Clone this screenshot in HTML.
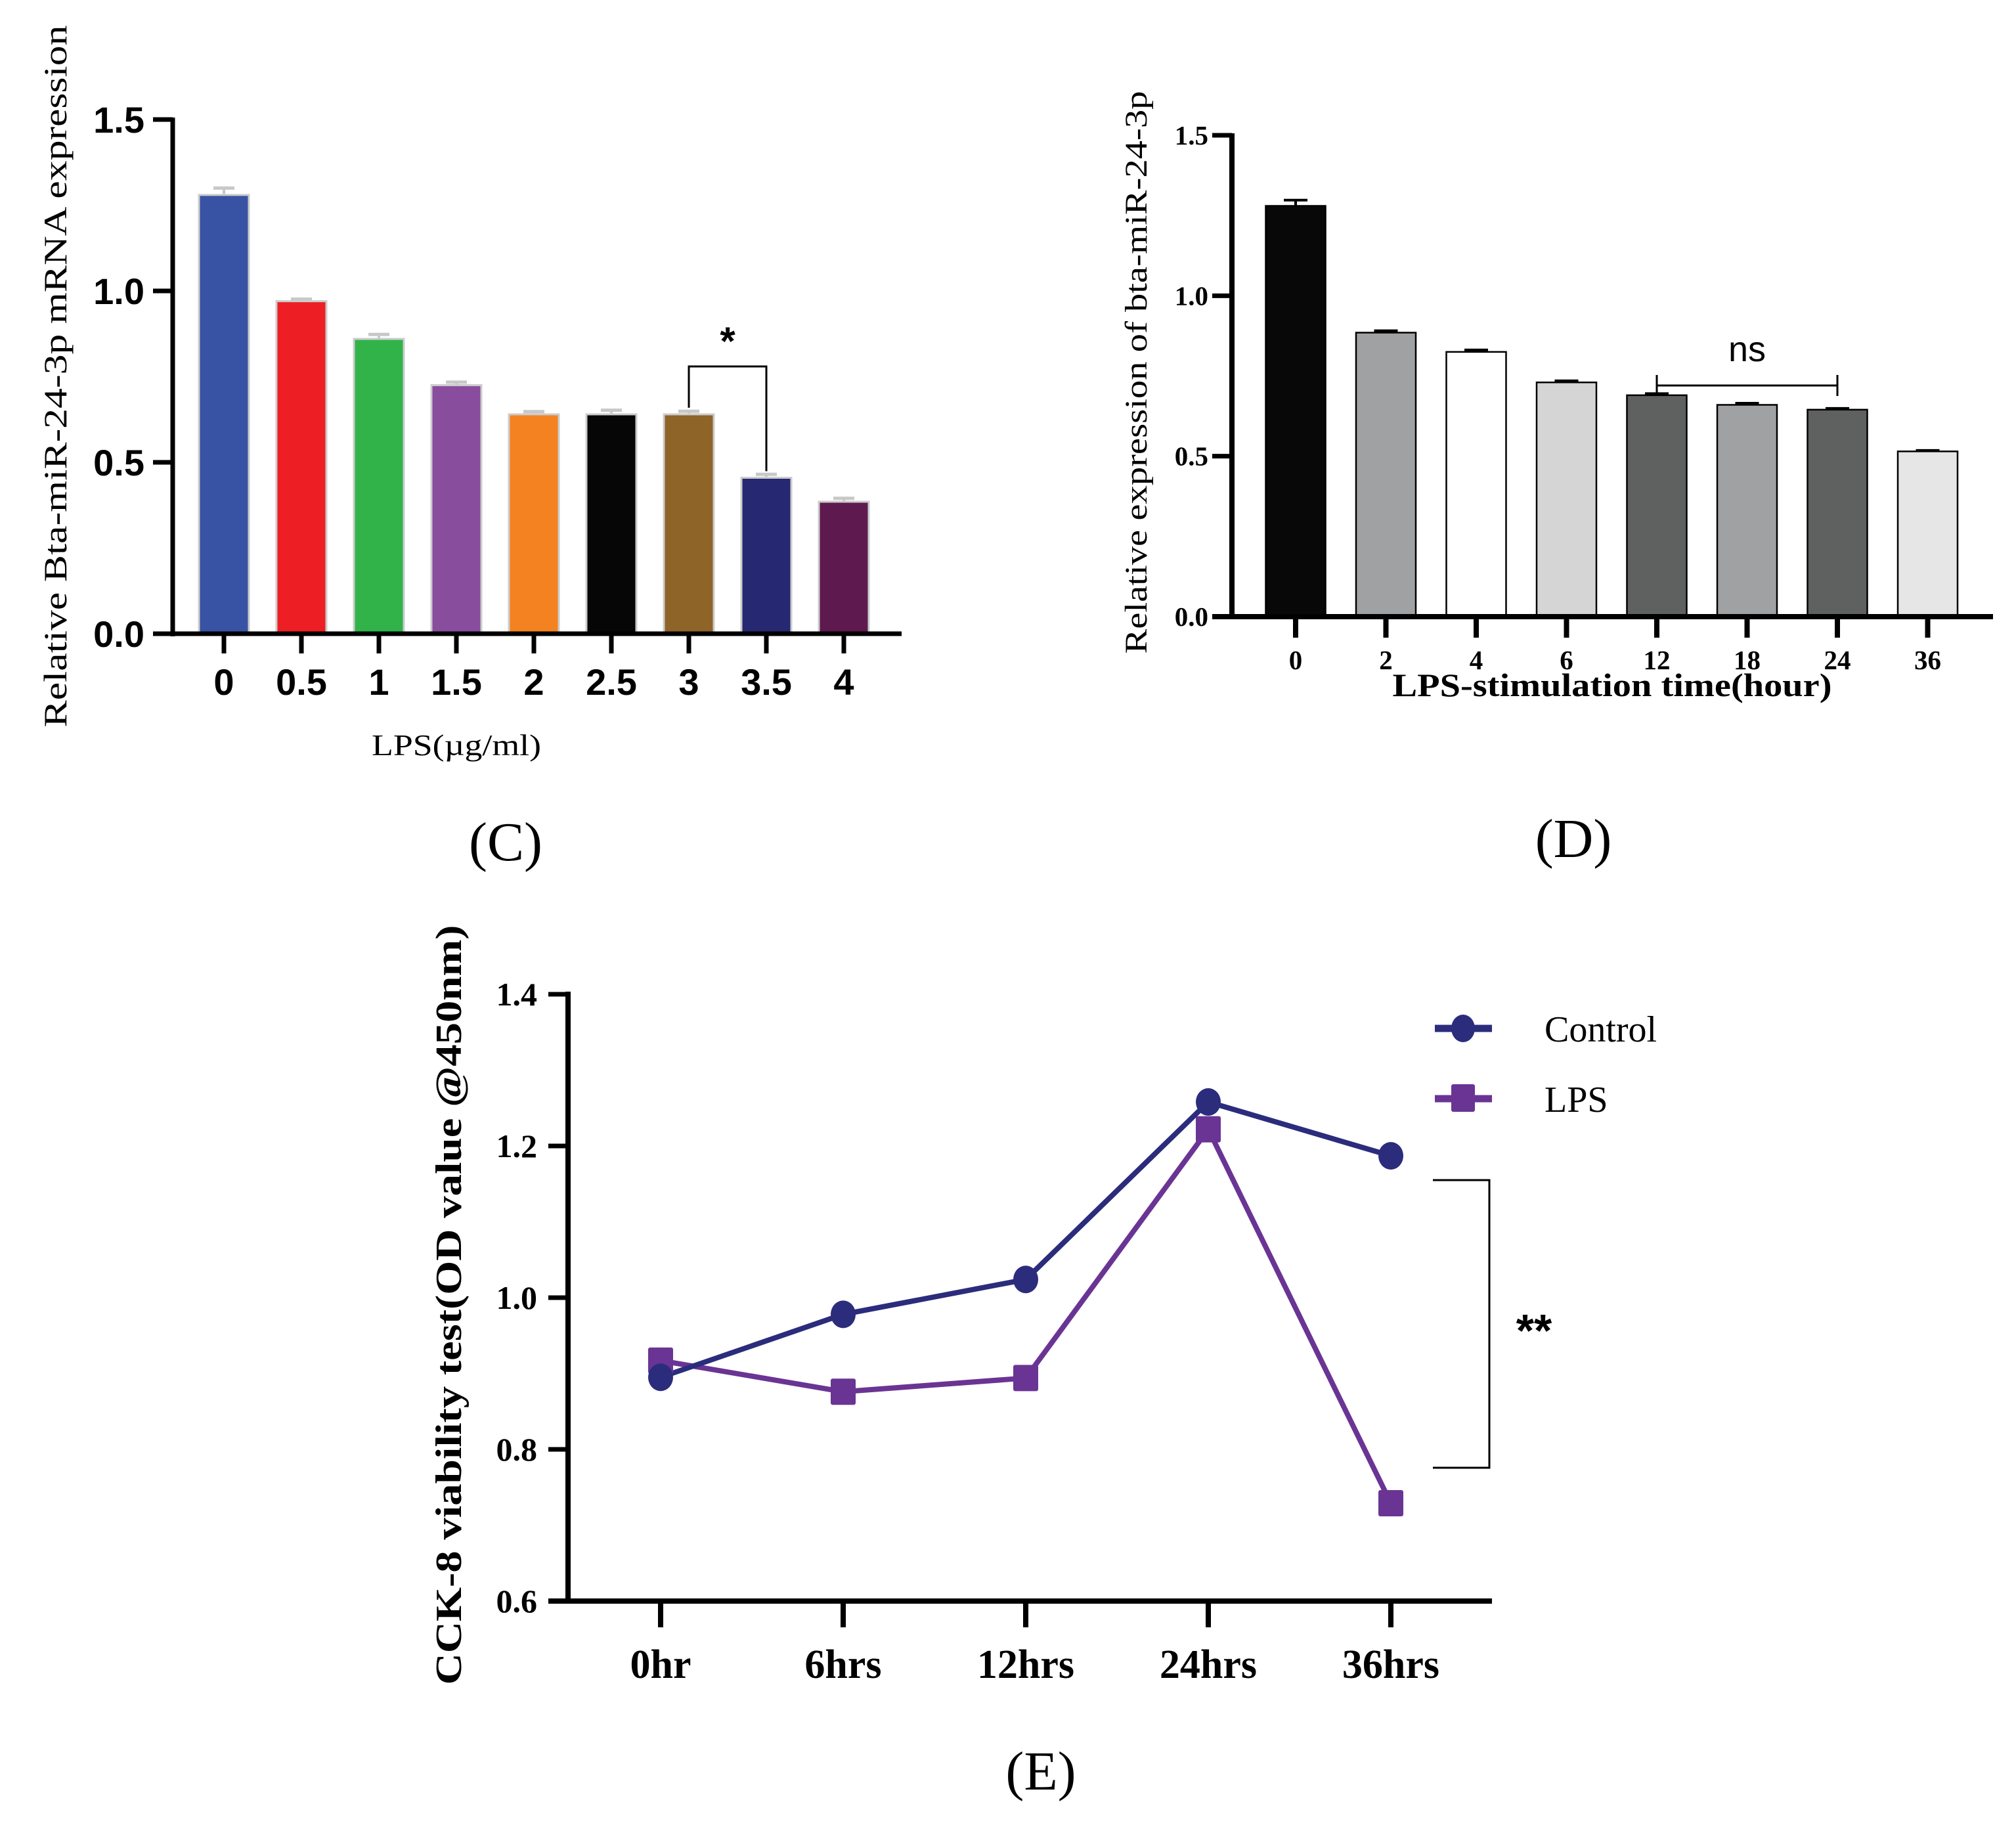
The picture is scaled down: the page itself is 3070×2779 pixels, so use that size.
<!DOCTYPE html>
<html><head><meta charset="utf-8"><style>
html,body{margin:0;padding:0;background:#fff;}
svg{display:block;}
</style></head><body>
<svg id="fig" width="3070" height="2779" viewBox="0 0 3070 2779" xmlns="http://www.w3.org/2000/svg">
<g id="chartC"></g>
<g id="chartD"></g>
<g id="chartE"></g>
</svg>
<script>
// ---- Chart C data ----
const cCategories = ["0","0.5","1","1.5","2","2.5","3","3.5","4"];
const cValues = [1.28,0.97,0.86,0.725,0.64,0.64,0.64,0.455,0.385];
const cErrors = [0.02,0.006,0.013,0.009,0.008,0.012,0.009,0.01,0.01];
const cColors = ["#3953A4","#ED1F24","#32B34A","#894D9E","#F48220","#060606","#8F6428","#262872","#5E1A4F"];
const cTicks = [0,0.5,1.0,1.5];
const cTickLabels = ["0.0","0.5","1.0","1.5"];
// ---- Chart D data ----
const dCategories = ["0","2","4","6","12","18","24","36"];
const dValues = [1.28,0.885,0.825,0.73,0.69,0.66,0.645,0.515];
const dErrors = [0.018,0.006,0.006,0.005,0.005,0.005,0.004,0.003];
const dColors = ["#080808","#a0a1a3","#ffffff","#d4d5d4","#5f6160","#a0a1a3","#5f6160","#e6e6e6"];
const dTicks = [0,0.5,1.0,1.5];
const dTickLabels = ["0.0","0.5","1.0","1.5"];
// ---- Chart E data ----
const eCategories = ["0hr","6hrs","12hrs","24hrs","36hrs"];
const eControl = [0.895,0.978,1.024,1.258,1.187];
const eLPS = [0.917,0.876,0.894,1.222,0.729];
const eTicks = [0.6,0.8,1.0,1.2,1.4];
const eTickLabels = ["0.6","0.8","1.0","1.2","1.4"];

const NS="http://www.w3.org/2000/svg";
function mk(parent,tag,attrs,text){
  const el=document.createElementNS(NS,tag);
  for(const k in attrs) el.setAttribute(k,attrs[k]);
  if(text!==undefined) el.textContent=text;
  parent.appendChild(el); return el;
}
const SERIF='"Liberation Serif", serif', SANS='"Liberation Sans", sans-serif';

// ===== Chart C =====
(function(){
  const g=document.getElementById('chartC');
  const x0=263, y0=965, yTop=182, xEnd=1373, step=118, first=341, bw=76;
  const ys=v=>y0-(v/1.5)*(y0-yTop);
  const xs=i=>first+i*step;
  cValues.forEach((v,i)=>{
    const eb=mk(g,'line',{x1:xs(i)-16,x2:xs(i)+16,y1:ys(v+cErrors[i]),y2:ys(v+cErrors[i]),stroke:'#c8c8c8','stroke-width':5});
    
    
    mk(g,'line',{x1:xs(i),x2:xs(i),y1:ys(v+cErrors[i]),y2:ys(v),stroke:'#c8c8c8','stroke-width':4});
    const r=mk(g,'rect',{x:xs(i)-bw/2,y:ys(v),width:bw,height:y0-ys(v),fill:cColors[i],stroke:'#cccccc','stroke-width':3});
    
    
  });
  mk(g,'line',{x1:x0,x2:x0,y1:yTop-3,y2:y0+4,stroke:'#000','stroke-width':7,});
  mk(g,'line',{x1:x0-30,x2:xEnd,y1:y0,y2:y0,stroke:'#000','stroke-width':7,});
  cTicks.forEach((t,i)=>{
    mk(g,'line',{x1:x0-30,x2:x0,y1:ys(t),y2:ys(t),stroke:'#000','stroke-width':7});
    const tl=mk(g,'text',{x:220,y:ys(t)+20,'text-anchor':'end','font-family':SANS,'font-weight':'bold','font-size':56},cTickLabels[i]);
    
    
  });
  cCategories.forEach((c,i)=>{
    mk(g,'line',{x1:xs(i),x2:xs(i),y1:y0,y2:y0+30,stroke:'#000','stroke-width':7});
    const tl=mk(g,'text',{x:xs(i),y:1058,'text-anchor':'middle','font-family':SANS,'font-weight':'bold','font-size':56},c);
    
    
  });
  mk(g,'text',{x:0,y:0,transform:'translate(101,573) rotate(-90)','text-anchor':'middle','font-family':SERIF,'font-size':50,textLength:1069,lengthAdjust:'spacingAndGlyphs',},'Relative Bta-miR-24-3p  mRNA expression');
  mk(g,'text',{x:695,y:1150,'text-anchor':'middle','font-family':SERIF,'font-size':46,textLength:258,lengthAdjust:'spacingAndGlyphs',},'LPS(µg/ml)');
  mk(g,'text',{x:770,y:1310,'text-anchor':'middle','font-family':SERIF,'font-size':84,},'(C)');
  mk(g,'polyline',{points:`${xs(6)},${ys(cValues[6])-10} ${xs(6)},558 ${xs(7)},558 ${xs(7)},${ys(cValues[7])-10}`,fill:'none',stroke:'#000','stroke-width':3,});
  mk(g,'text',{x:(xs(6)+xs(7))/2,y:540,'text-anchor':'middle','font-family':SANS,'font-weight':'bold','font-size':60,},'*');
})();

// ===== Chart D =====
(function(){
  const g=document.getElementById('chartD');
  const x0=1876, y0=939, yTop=206, xEnd=3035, step=137.5, first=1973, bw=91;
  const ys=v=>y0-(v/1.5)*(y0-yTop);
  const xs=i=>first+i*step;
  dValues.forEach((v,i)=>{
    mk(g,'line',{x1:xs(i)-18,x2:xs(i)+18,y1:ys(v+dErrors[i]),y2:ys(v+dErrors[i]),stroke:'#000','stroke-width':4});
    mk(g,'line',{x1:xs(i),x2:xs(i),y1:ys(v+dErrors[i]),y2:ys(v),stroke:'#000','stroke-width':4});
    const r=mk(g,'rect',{x:xs(i)-bw/2,y:ys(v),width:bw,height:y0-ys(v),fill:dColors[i],stroke:'#000','stroke-width':2.5});
    
    
  });
  mk(g,'line',{x1:x0,x2:x0,y1:yTop-3,y2:y0+4,stroke:'#000','stroke-width':8,});
  mk(g,'line',{x1:x0-30,x2:xEnd,y1:y0,y2:y0,stroke:'#000','stroke-width':8,});
  dTicks.forEach((t,i)=>{
    mk(g,'line',{x1:x0-30,x2:x0,y1:ys(t),y2:ys(t),stroke:'#000','stroke-width':7});
    const tl=mk(g,'text',{x:1840,y:ys(t)+14,'text-anchor':'end','font-family':SERIF,'font-weight':'bold','font-size':41},dTickLabels[i]);
    
    
  });
  dCategories.forEach((c,i)=>{
    mk(g,'line',{x1:xs(i),x2:xs(i),y1:y0,y2:y0+32,stroke:'#000','stroke-width':8});
    const tl=mk(g,'text',{x:xs(i),y:1019,'text-anchor':'middle','font-family':SERIF,'font-weight':'bold','font-size':41},c);
    
    
  });
  mk(g,'text',{x:0,y:0,transform:'translate(1746,567) rotate(-90)','text-anchor':'middle','font-family':SERIF,'font-size':48,textLength:857,lengthAdjust:'spacingAndGlyphs',},'Relative expression of bta-miR-24-3p');
  mk(g,'text',{x:2455,y:1060,'text-anchor':'middle','font-family':SERIF,'font-weight':'bold','font-size':50,textLength:669,lengthAdjust:'spacingAndGlyphs',},'LPS-stimulation time(hour)');
  mk(g,'text',{x:2396,y:1305,'text-anchor':'middle','font-family':SERIF,'font-size':84,},'(D)');
  mk(g,'line',{x1:xs(4),x2:xs(6),y1:587,y2:587,stroke:'#000','stroke-width':3,});
  mk(g,'line',{x1:xs(4),x2:xs(4),y1:571,y2:603,stroke:'#000','stroke-width':3});
  mk(g,'line',{x1:xs(6),x2:xs(6),y1:571,y2:603,stroke:'#000','stroke-width':3});
  mk(g,'text',{x:(xs(4)+xs(6))/2,y:550,'text-anchor':'middle','font-family':SANS,'font-size':54,},'ns');
})();

// ===== Chart E =====
(function(){
  const g=document.getElementById('chartE');
  const x0=865, yTop=1514, yBot=2438, xEnd=2272, step=278, first=1006;
  const ys=v=>yBot-((v-0.6)/0.8)*(yBot-yTop);
  const xs=i=>first+i*step;
  mk(g,'line',{x1:x0,x2:x0,y1:yTop-4,y2:yBot+4,stroke:'#000','stroke-width':8,});
  mk(g,'line',{x1:x0-30,x2:xEnd,y1:yBot,y2:yBot,stroke:'#000','stroke-width':8,});
  eTicks.forEach((t,i)=>{
    mk(g,'line',{x1:x0-30,x2:x0,y1:ys(t),y2:ys(t),stroke:'#000','stroke-width':7});
    const tl=mk(g,'text',{x:818,y:ys(t)+17,'text-anchor':'end','font-family':SERIF,'font-weight':'bold','font-size':50},eTickLabels[i]);
    
    
  });
  eCategories.forEach((c,i)=>{
    mk(g,'line',{x1:xs(i),x2:xs(i),y1:yBot,y2:yBot+40,stroke:'#000','stroke-width':8});
    const tl=mk(g,'text',{x:xs(i),y:2555,'text-anchor':'middle','font-family':SERIF,'font-weight':'bold','font-size':62},c);
    
    
  });
  const lp=eLPS.map((v,i)=>xs(i)+','+ys(v)).join(' ');
  const cp=eControl.map((v,i)=>xs(i)+','+ys(v)).join(' ');
  mk(g,'polyline',{points:lp,fill:'none',stroke:'#6A3494','stroke-width':8,});
  mk(g,'polyline',{points:cp,fill:'none',stroke:'#2B2C7C','stroke-width':8,});
  eLPS.forEach((v,i)=>{
    const s=mk(g,'rect',{x:xs(i)-19,y:ys(v)-20,width:38,height:40,rx:3,fill:'#6A3494'});
    
    
  });
  eControl.forEach((v,i)=>{
    const c=mk(g,'ellipse',{cx:xs(i),cy:ys(v),rx:19,ry:21,fill:'#2B2C7C'});
    
    
  });
  // legend
  mk(g,'line',{x1:2185,x2:2272,y1:1566,y2:1566,stroke:'#2B2C7C','stroke-width':11});
  mk(g,'ellipse',{cx:2228,cy:1566,rx:18,ry:21,fill:'#2B2C7C',});
  mk(g,'text',{x:2352,y:1586,'font-family':SERIF,'font-size':56,},'Control');
  mk(g,'line',{x1:2185,x2:2272,y1:1673,y2:1673,stroke:'#6A3494','stroke-width':11});
  mk(g,'rect',{x:2210,y:1651,width:36,height:42,rx:3,fill:'#6A3494',});
  mk(g,'text',{x:2352,y:1693,'font-family':SERIF,'font-size':56,},'LPS');
  // bracket
  mk(g,'polyline',{points:'2182,1797 2268,1797 2268,2235 2182,2235',fill:'none',stroke:'#000','stroke-width':3,});
  mk(g,'text',{x:2336,y:2050,'text-anchor':'middle','font-family':SANS,'font-weight':'bold','font-size':70,},'**');
  mk(g,'text',{x:0,y:0,transform:'translate(702,1987) rotate(-90)','text-anchor':'middle','font-family':SERIF,'font-weight':'bold','font-size':56,textLength:1157,lengthAdjust:'spacingAndGlyphs',},'CCK-8 viability test(OD value @450nm)');
  mk(g,'text',{x:1585,y:2725,'text-anchor':'middle','font-family':SERIF,'font-size':84,},'(E)');
})();
</script>
</body></html>
